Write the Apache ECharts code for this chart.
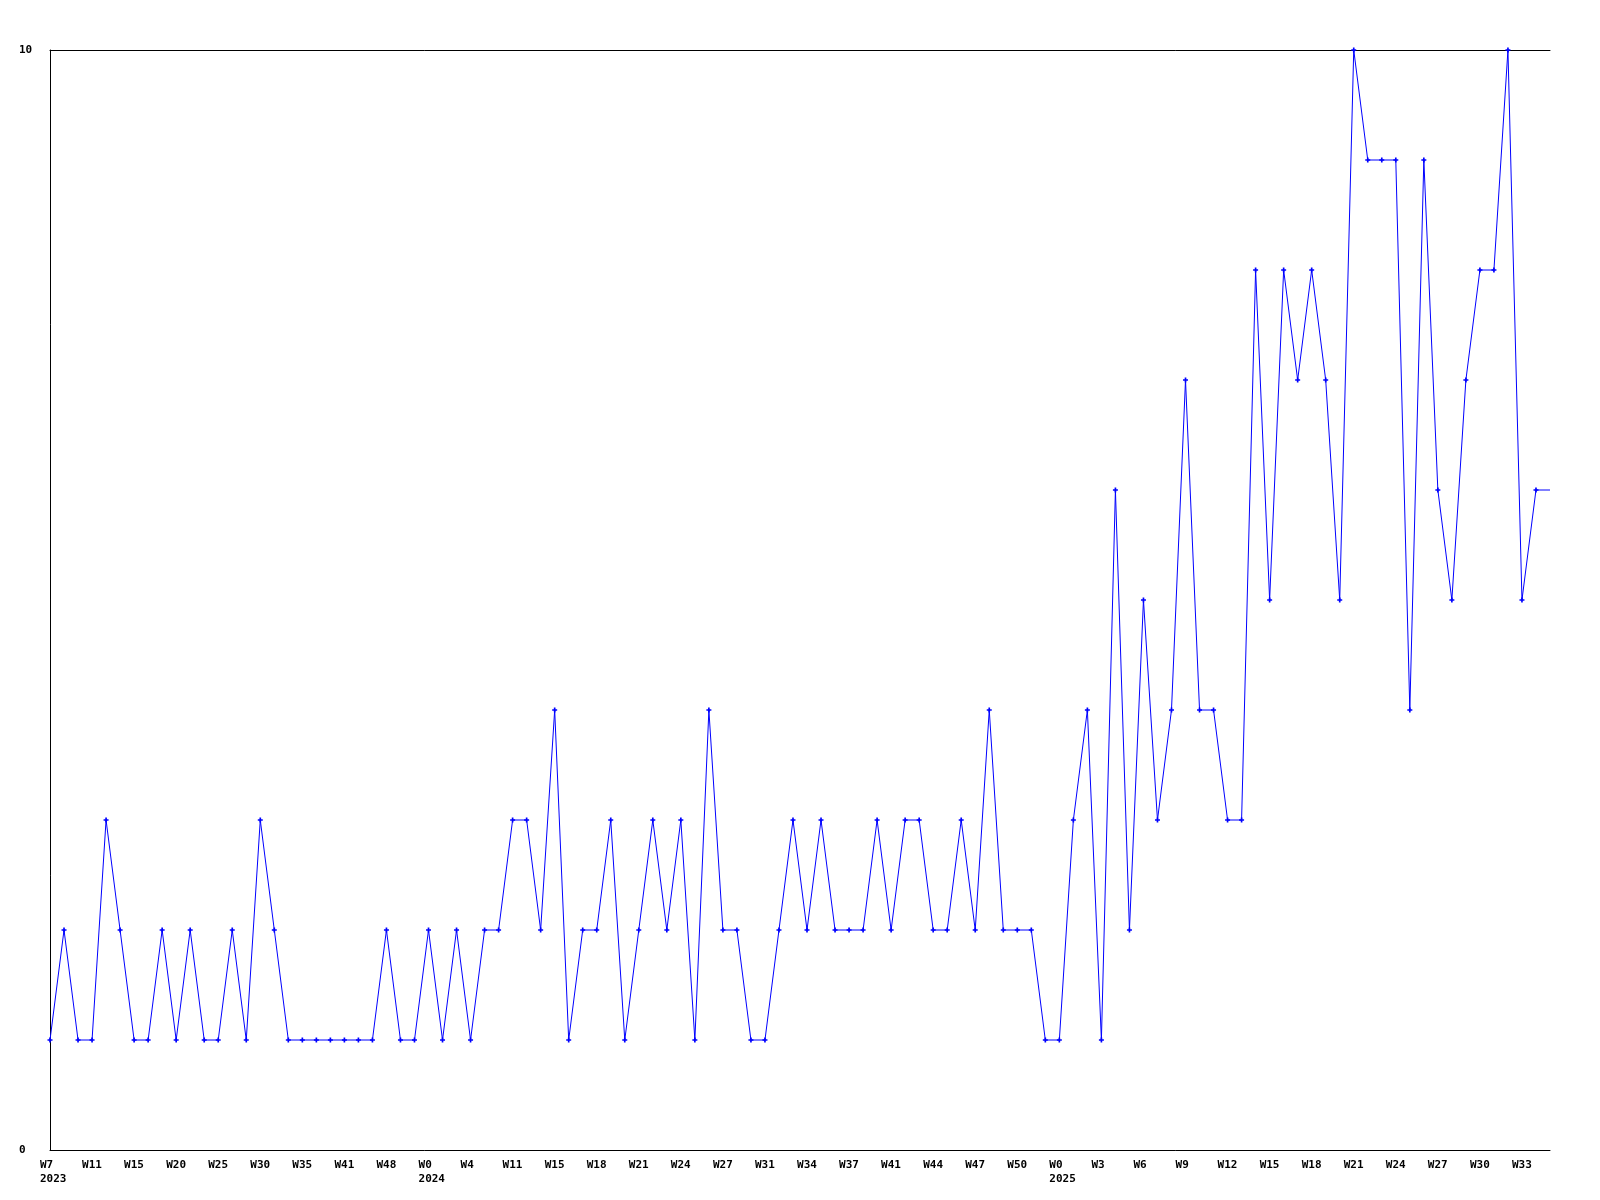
<!DOCTYPE html>
<html>
<head>
<meta charset="utf-8">
<script src="https://cdn.jsdelivr.net/npm/echarts@6/dist/echarts.min.js"></script>
<style>
html,body{margin:0;padding:0;background:#fff;}
#chart{width:1600px;height:1200px;}
</style>
</head>
<body>
<div id="chart"></div>
<script>
// Weekly values (one point per category, left to right)
const values = [
  1,2,1,1,3,2,1,1,2,1,2,1,1,2,1,3,2,1,1,1,
  1,1,1,1,2,1,1,2,1,2,1,2,2,3,3,2,4,1,2,2,
  3,1,2,3,2,3,1,4,2,2,1,1,2,3,2,3,2,2,2,3,
  2,3,3,2,2,3,2,4,2,2,2,1,1,3,4,1,6,2,5,3,
  4,7,4,4,3,3,8,5,8,7,8,7,5,10,9,9,9,4,9,6,
  5,7,8,8,10,5,6,6
];
// Tick labels, shown on every third point
const tickLabels = [
  'W7','W11','W15','W20','W25','W30','W35','W41','W48',
  'W0','W4','W11','W15','W18','W21','W24','W27','W31','W34','W37','W41','W44','W47','W50',
  'W0','W3','W6','W9','W12','W15','W18','W21','W24','W27','W30','W33'
];
// Year shown under the first tick of each year (index into tickLabels)
const yearLabels = {0:'2023', 9:'2024', 24:'2025'};
const yTicks = [0, 10];

const categories = values.map((v, i) => String(i));
const seriesData = values.map((v, i) => i === values.length - 1 ? {value: v, symbol: 'none'} : v);

const font = '"DejaVu Sans Mono", "Liberation Mono", monospace';
const chart = echarts.init(document.getElementById('chart'), null, {renderer: 'canvas'});
chart.setOption({
  animation: false,
  backgroundColor: '#ffffff',
  grid: {left: 50, right: 50, top: 50, bottom: 50, containLabel: false},
  xAxis: [{
    type: 'category',
    data: categories,
    boundaryGap: false,
    axisLine: {show: true, lineStyle: {color: '#000', width: 1}},
    axisTick: {show: false},
    splitLine: {show: false},
    axisLabel: {
      interval: 2,
      align: 'left',
      padding: [0, 0, 0, -10],
      margin: 8,
      color: '#000',
      fontFamily: font,
      fontWeight: 'bold',
      fontSize: 11,
      lineHeight: 14,
      formatter: function (value, index) {
        if (index % 3 !== 0) return '';
        const k = index / 3;
        const t = tickLabels[k] || '';
        return yearLabels[k] ? t + '\n' + yearLabels[k] : t;
      }
    }
  }, {
    type: 'category',
    data: categories,
    position: 'top',
    boundaryGap: false,
    axisLine: {show: true, onZero: false, lineStyle: {color: '#000', width: 1}},
    axisTick: {show: false},
    axisLabel: {show: false},
    splitLine: {show: false}
  }],
  yAxis: {
    type: 'value',
    min: yTicks[0],
    max: yTicks[1],
    interval: 10,
    axisLine: {show: true, lineStyle: {color: '#000', width: 1}},
    axisTick: {show: false},
    splitLine: {show: false},
    axisLabel: {
      align: 'left',
      margin: 31,
      color: '#000',
      fontFamily: font,
      fontWeight: 'bold',
      fontSize: 11
    }
  },
  series: [{
    type: 'line',
    data: seriesData,
    xAxisIndex: 0,
    symbol: 'path://M2,0H4V2H6V4H4V6H2V4H0V2H2Z',
    symbolSize: 5,
    showSymbol: true,
    showAllSymbol: true,
    lineStyle: {color: '#0000ff', width: 1},
    itemStyle: {color: '#0000ff', borderWidth: 0},
    emphasis: {disabled: true}
  }]
});
</script>
</body>
</html>
